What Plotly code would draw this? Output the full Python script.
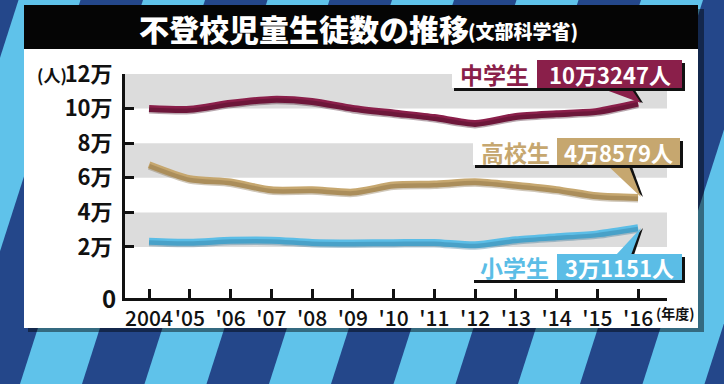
import plotly.graph_objects as go

# ---------------- data ----------------
years = list(range(2004, 2017))
year_labels = ["2004", "'05", "'06", "'07", "'08", "'09", "'10", "'11", "'12", "'13", "'14", "'15", "'16"]
elementary = [23318, 22709, 23825, 23927, 22652, 22327, 22463, 22622, 21243, 24175, 25864, 27583, 31151]
junior = [100040, 99578, 103069, 105328, 104153, 100105, 97428, 94836, 91446, 95442, 97033, 98408, 103247]
high = [67500, 59419, 57544, 53041, 53024, 51728, 55776, 56361, 57664, 55655, 53156, 49563, 48579]
y_tickvals = [20000, 40000, 60000, 80000, 100000, 120000]
y_ticktext = ["2万", "4万", "6万", "8万", "10万", "12万"]
series_names = ["小学生", "中学生", "高校生"]
series_labels = ["3万1151人", "10万3247人", "4万8579人"]

# ---------------- style ----------------
W, H = 724, 384
L, R, T, B = 125, 57, 74, 86
PW, PH = W - L - R, H - T - B
Y0 = -9500
YMAX = 120000
SHIFT = 2 * (YMAX - Y0) / PH   # 2 px shadow offset via second axis

MAROON = "#8a1f4a"
TAN = "#c6a76f"
BLUE = "#5bbde6"
DARKBG = "#24478a"
LIGHTBG = "#5fc2ea"
BAND = "#dcdcdc"
FONT = "Noto Sans CJK JP, Noto Sans, sans-serif"


def px(x):
    return (x - L) / PW


def py(y):
    return (H - B - y) / PH


fig = go.Figure()

# shadows (drawn through an offset overlay axis)
for vals, col in [(junior, "#3a0a1e"), (high, "#7a6238"), (elementary, "#2a6f93")]:
    fig.add_trace(go.Scatter(x=years, y=vals, mode="lines", yaxis="y2",
                             line=dict(color=col, width=6, shape="spline", smoothing=0.7),
                             opacity=0.35, hoverinfo="skip", showlegend=False))
for vals, col in [(junior, MAROON), (high, TAN), (elementary, BLUE)]:
    fig.add_trace(go.Scatter(x=years, y=vals, mode="lines",
                             line=dict(color=col, width=7, shape="spline", smoothing=0.7),
                             showlegend=False))

shapes = []
# background stripes
for k in range(-3, 8):
    xb = 20 + 124.5 * k
    pts = [(xb, 384), (xb + 62, 384), (xb + 62 + 123, 0), (xb + 123, 0)]
    path = "M " + " L ".join(f"{px(a):.5f},{py(b):.5f}" for a, b in pts) + " Z"
    shapes.append(dict(type="path", path=path, xref="paper", yref="paper",
                       fillcolor=LIGHTBG, line=dict(width=0), layer="below"))
# panel shadow + panel + title bar
shapes.append(dict(type="rect", xref="paper", yref="paper", x0=px(28), x1=px(704), y0=py(9), y1=py(332),
                   fillcolor="rgba(0,0,0,0.45)", line=dict(width=0), layer="below"))
shapes.append(dict(type="rect", xref="paper", yref="paper", x0=px(24), x1=px(698), y0=py(49), y1=py(328),
                   fillcolor="white", line=dict(width=0), layer="below"))
shapes.append(dict(type="rect", xref="paper", yref="paper", x0=px(24), x1=px(698), y0=py(5), y1=py(49),
                   fillcolor="#050505", line=dict(width=0), layer="below"))
# gray bands
for a, b in [(100000, 120000), (60000, 80000), (20000, 40000)]:
    shapes.append(dict(type="rect", xref="paper", yref="y", x0=0, x1=1, y0=a, y1=b,
                       fillcolor=BAND, line=dict(width=0), layer="below"))

annotations = []


def label_box(x_white, x_split, x_end, y_top, y_bot, color, name, value, pointer):
    (a1, a2, tip) = pointer
    sp = [(a1[0] + 3, a1[1]), (a2[0] + 3, a2[1]), (tip[0] + 2, tip[1])]
    shapes.append(dict(type="path", xref="paper", yref="paper",
                       path="M " + " L ".join(f"{px(a):.5f},{py(b):.5f}" for a, b in sp) + " Z",
                       fillcolor="#111", line=dict(width=0), layer="above"))
    shapes.append(dict(type="path", xref="paper", yref="paper",
                       path="M " + " L ".join(f"{px(a):.5f},{py(b):.5f}" for a, b in [a1, a2, tip]) + " Z",
                       fillcolor=color, line=dict(width=0), layer="above"))
    shapes.append(dict(type="rect", xref="paper", yref="paper", x0=px(x_white + 2), x1=px(x_end + 3),
                       y0=py(y_top + 3), y1=py(y_bot + 3), fillcolor="#111", line=dict(width=0), layer="above"))
    shapes.append(dict(type="rect", xref="paper", yref="paper", x0=px(x_white), x1=px(x_split),
                       y0=py(y_top), y1=py(y_bot), fillcolor="white", line=dict(width=0), layer="above"))
    shapes.append(dict(type="rect", xref="paper", yref="paper", x0=px(x_split), x1=px(x_end),
                       y0=py(y_top), y1=py(y_bot), fillcolor=color, line=dict(width=0), layer="above"))
    ym = py((y_top + y_bot) / 2)
    annotations.append(dict(xref="paper", yref="paper", x=px((x_white + x_split) / 2), y=ym,
                            text=name, showarrow=False,
                            font=dict(family=FONT, size=23, color=color, weight=700),
                            xanchor="center", yanchor="middle"))
    annotations.append(dict(xref="paper", yref="paper", x=px((x_split + x_end) / 2), y=ym,
                            text=value, showarrow=False,
                            font=dict(family=FONT, size=22, color="white", weight=700),
                            xanchor="center", yanchor="middle"))


label_box(452, 537, 682, 60, 88, MAROON, series_names[1], series_labels[1],
          ((598, 87), (630, 87), (641, 103)))
label_box(473, 557, 680, 138, 165, TAN, series_names[2], series_labels[2],
          ((606, 164), (628, 164), (641, 197)))
label_box(472, 557, 682, 254, 280, BLUE, series_names[0], series_labels[0],
          ((616, 255), (631, 255), (641, 228)))

# title
annotations.append(dict(xref="paper", yref="paper", x=px(137), y=py(28), xanchor="left", yanchor="middle",
                        text="不登校児童生徒数の推移", showarrow=False,
                        font=dict(family=FONT, size=30, color="white", weight=900)))
annotations.append(dict(xref="paper", yref="paper", x=px(466), y=py(30), xanchor="left", yanchor="middle",
                        text="(文部科学省)", showarrow=False,
                        font=dict(family=FONT, size=19, color="white", weight=900)))
annotations.append(dict(xref="paper", yref="paper", x=px(69), y=py(74), xanchor="right", yanchor="middle",
                        text="(人)", showarrow=False,
                        font=dict(family=FONT, size=17, color="#111", weight=700)))
annotations.append(dict(xref="paper", yref="paper", x=px(118), y=py(297), xanchor="right", yanchor="middle",
                        text="0", showarrow=False,
                        font=dict(family=FONT, size=24, color="#111", weight=700)))
annotations.append(dict(xref="paper", yref="paper", x=px(654), y=py(313), xanchor="left", yanchor="middle",
                        text="(年度)", showarrow=False,
                        font=dict(family=FONT, size=14, color="#111", weight=700)))

fig.update_layout(
    width=W, height=H,
    margin=dict(l=L, r=R, t=T, b=B, pad=0),
    paper_bgcolor=DARKBG, plot_bgcolor="rgba(0,0,0,0)",
    shapes=shapes, annotations=annotations,
    xaxis=dict(range=[2003.41, 2016.71], tickvals=years, ticktext=year_labels, tickangle=0,
               showgrid=False, zeroline=False, showline=True, linecolor="#111", linewidth=3,
               ticks="inside", ticklen=9, tickwidth=2.5, tickcolor="#111",
               tickfont=dict(family=FONT, size=21, color="#111", weight=500), ticklabelstandoff=0),
    yaxis=dict(range=[Y0, YMAX], tickvals=y_tickvals, ticktext=y_ticktext,
               showgrid=False, zeroline=False, showline=True, linecolor="#111", linewidth=3,
               ticks="inside", ticklen=9, tickwidth=2.5, tickcolor="#111",
               tickfont=dict(family=FONT, size=22, color="#111", weight=700), ticklabelstandoff=5),
    yaxis2=dict(range=[Y0 + SHIFT, YMAX + SHIFT], overlaying="y", visible=False),
    showlegend=False,
)

fig.write_html("out.html", config={"displayModeBar": False},
               post_script="document.body.style.margin='0';document.body.style.overflow='hidden';")
